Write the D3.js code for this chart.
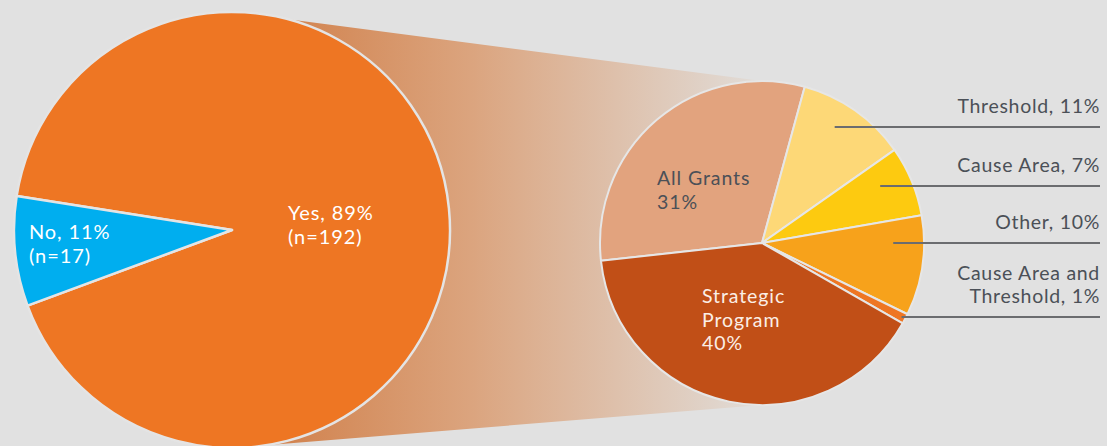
<!DOCTYPE html>
<html><head><meta charset="utf-8">
<script src="https://cdn.jsdelivr.net/npm/d3@7"></script>
<style>
html,body{margin:0;padding:0;background:#e1e1e1;}
svg{display:block;}
text{font-family:Lato,"Open Sans",sans-serif;}
</style></head>
<body>
<svg id="chart" width="1107" height="446"></svg>
<script>
// ---- Data ----
const mainCategories = ["Yes", "No"];
const mainCounts = [192, 17];
const mainPercents = [89, 11];

const subCategories = ["All Grants", "Threshold", "Cause Area", "Other", "Cause Area and Threshold", "Strategic Program"];
const subPercents = [31, 11, 7, 10, 1, 40];

// ---- Styles / layout (not data) ----
const mainColors = ["#ee7623", "#00aeef"];
const subColors = ["#e2a37e", "#fdd877", "#fdca10", "#f7a21b", "#ee7623", "#c14f17"];
const W = 1107, H = 446;
const big = {cx: 232, cy: 230, r: 218};
const small = {cx: 762, cy: 243, r: 162};

const svg = d3.select("#chart");
svg.append("rect").attr("width", W).attr("height", H).attr("fill", "#e1e1e1");

// connector gradient band
const defs = svg.append("defs");
const grad = defs.append("linearGradient").attr("id", "band")
  .attr("gradientUnits", "userSpaceOnUse")
  .attr("x1", big.cx).attr("y1", 0).attr("x2", small.cx).attr("y2", 0);
grad.append("stop").attr("offset", "0%").attr("stop-color", "#cf7a42");
grad.append("stop").attr("offset", "45%").attr("stop-color", "#dba47e");
grad.append("stop").attr("offset", "100%").attr("stop-color", "#e1ddd9");

svg.append("path")
  .attr("d", d3.line()([
    [big.cx, big.cy - big.r], [small.cx, small.cy - small.r],
    [small.cx, small.cy + small.r], [big.cx, big.cy + big.r]
  ]) + "Z")
  .attr("fill", "url(#band)");

const deg = Math.PI / 180;

// ---- Big pie ----
const mainPie = d3.pie().sort(null)
  .startAngle(-81 * deg).endAngle(-81 * deg + 2 * Math.PI)
  .value(d => d.n);
const mainData = mainPie(mainCategories.map((c, i) => ({cat: c, n: mainCounts[i], pct: mainPercents[i]})));
const bigArc = d3.arc().innerRadius(0).outerRadius(big.r);
const gBig = svg.append("g").attr("transform", `translate(${big.cx},${big.cy})`);
gBig.selectAll("path").data(mainData).join("path")
  .attr("d", bigArc)
  .attr("fill", (d, i) => mainColors[i])
  .attr("stroke", "#e4e4e4").attr("stroke-width", 2.5).attr("stroke-linejoin", "round");

// multi-line label helper: each line its own text element
function label(lines, x, y, lh, opts) {
  lines.forEach((l, k) => {
    svg.append("text").attr("x", x).attr("y", y + k * lh)
      .attr("fill", opts.color).attr("font-size", opts.size)
      .attr("letter-spacing", opts.ls || 0)
      .attr("text-anchor", opts.anchor || "start")
      .text(l);
  });
}

// big labels
const bigLabelPos = [[288, 220], [29, 239]];
mainData.forEach((d, i) => {
  label([`${d.data.cat}, ${d.data.pct}%`, `(n=${d.data.n})`], bigLabelPos[i][0], bigLabelPos[i][1], 24,
    {color: "#ffffff", size: 20, ls: 0.9});
});

// ---- Small pie ----
const subPie = d3.pie().sort(null)
  .startAngle(-96.3 * deg).endAngle(-96.3 * deg + 2 * Math.PI)
  .value(d => d.v);
const subData = subPie(subCategories.map((c, i) => ({cat: c, v: subPercents[i]})));
const smallArc = d3.arc().innerRadius(0).outerRadius(small.r);
const gSmall = svg.append("g").attr("transform", `translate(${small.cx},${small.cy})`);
gSmall.selectAll("path").data(subData).join("path")
  .attr("d", smallArc)
  .attr("fill", (d, i) => subColors[i])
  .attr("stroke", "#e6e6e6").attr("stroke-width", 2).attr("stroke-linejoin", "round");

// inner labels
label([subCategories[0], subPercents[0] + "%"], 657, 185, 23.7, {color: "#4b5057", size: 19.5, ls: 0.9});
label(["Strategic", "Program", subPercents[5] + "%"], 702, 303, 23.7, {color: "#fbeee6", size: 19.5, ls: 0.9});

// outside labels with leader lines
const outside = [
  {i: 1, lineY: 127, rf: 0.845, lines: [`${subCategories[1]}, ${subPercents[1]}%`]},
  {i: 2, lineY: 186, rf: 0.81, lines: [`${subCategories[2]}, ${subPercents[2]}%`]},
  {i: 3, lineY: 243, rf: 0.81, lines: [`${subCategories[3]}, ${subPercents[3]}%`]},
  {i: 4, lineY: 317, rf: 0.975, lines: ["Cause Area and", `Threshold, ${subPercents[4]}%`]}
];
const rightX = 1100;
outside.forEach(o => {
  const rr = small.r * o.rf;
  const dy = o.lineY - small.cy;
  const x0 = small.cx + Math.sqrt(Math.max(0, rr * rr - dy * dy));
  svg.append("line").attr("x1", x0).attr("x2", rightX)
    .attr("y1", o.lineY).attr("y2", o.lineY)
    .attr("stroke", "#6b6c6f").attr("stroke-width", 2);
  const n = o.lines.length;
  label(o.lines, rightX, o.lineY - 14 - (n - 1) * 23, 23,
    {color: "#4b5057", size: 19.5, ls: 0.7, anchor: "end"});
});
</script>
</body></html>
